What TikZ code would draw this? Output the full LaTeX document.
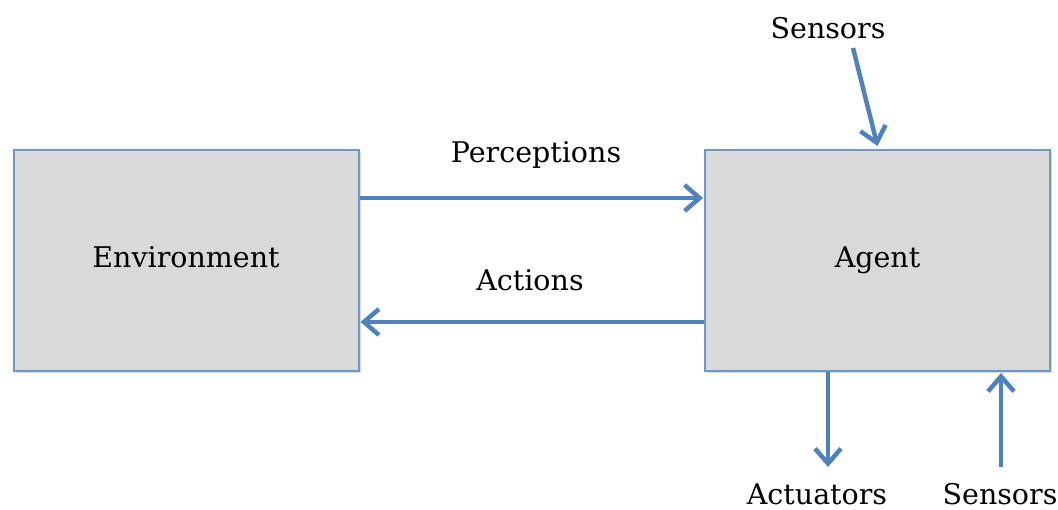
\documentclass[tikz,border=0pt]{standalone}
\usepackage{fontspec}
\setmainfont{DejaVu Serif}
\usetikzlibrary{arrows.meta,shadows,calc}
\definecolor{linkblue}{RGB}{79,129,189}
\definecolor{edgeblue}{RGB}{110,152,204}
\definecolor{boxgray}{RGB}{217,217,217}
\tikzset{
  block/.style={draw=edgeblue, line width=2pt, fill=boxgray, minimum width=345pt,
    minimum height=221pt, inner sep=0pt,
    drop shadow={shadow xshift=2pt, shadow yshift=-2pt, opacity=0.25, fill=black!60},
    font=\fontsize{28.5}{32}\selectfont},
  tag/.style={inner sep=0pt, font=\fontsize{28.5}{32}\selectfont},
  flow/.style={draw=linkblue, line width=4.5pt,
    -{Straight Barb[length=15pt, width=26pt, line width=4.5pt]}}
}
\begin{document}
\begin{tikzpicture}[x=1pt,y=-1pt]
  \useasboundingbox (0,0) rectangle (1058,510);

  % the two main blocks
  \node[block] (env) at (186,260.5) {\raisebox{6pt}{Environment}};
  \node[block] (agent) at (877.5,260.5) {\raisebox{6pt}{Agent}};

  % labels
  \node[tag] (perc) at (536,155) {Perceptions};
  \node[tag] (act) at (530,280) {Actions};
  \node[tag] (sensA) at (828,28) {Sensors};
  \node[tag] (actu) at (817,494) {Actuators};
  \node[tag] (sensB) at (1000,494) {Sensors};

  % free ends of the sensor and actuator arrows
  \coordinate (sA) at (853,48);
  \coordinate (acE) at (828,467);
  \coordinate (sB) at (1001,467);

  % environment <-> agent
  \draw[flow] ($(env.north east)+(0,49)$) -- ($(agent.north west)+(-1,49)$);
  \draw[flow] ($(agent.north west)+(0,173)$) -- ($(env.north east)+(1,173)$);

  % sensors and actuators
  \draw[flow] (sA) -- ($(agent.north)+(0,-3)$);
  \draw[flow] (agent.south -| acE) -- (acE);
  \draw[flow] (sB) -- ($(agent.south -| sB)+(0,1)$);
\end{tikzpicture}
\end{document}
